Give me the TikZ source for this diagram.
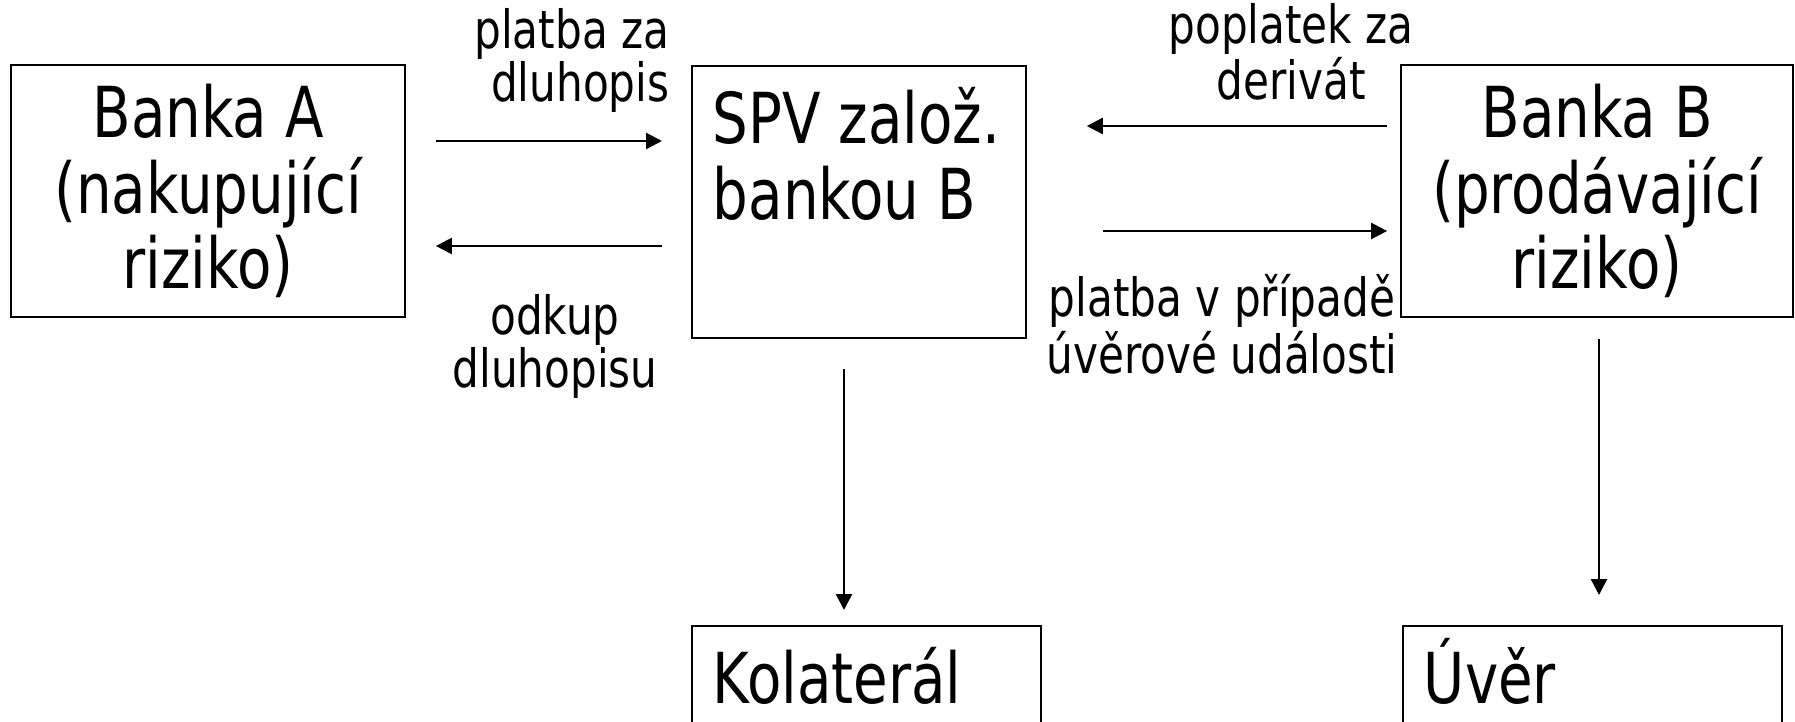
\documentclass[tikz,border=0pt]{standalone}
\usepackage{fontspec}
\setmainfont[FakeStretch=0.8]{DejaVu Sans}
\usetikzlibrary{arrows.meta}

\newcommand{\boxtext}{\fontsize{20}{21.6}\selectfont}
\newcommand{\lbltext}{\fontsize{15}{14.8}\selectfont}
% box with text in the upper left corner
\newcommand{\topleft}[3]{\parbox[c][#2][t]{#1}{\leftskip=0.21cm\rule{0pt}{0.78cm}#3}}

\tikzset{
  block/.style={draw, line width=0.5pt, inner sep=0pt, align=center, font=\boxtext},
  cell/.style={draw, line width=0.5pt, inner sep=0pt, anchor=north west, font=\boxtext},
  lbl/.style={font=\lbltext, inner sep=0pt},
  flow/.style={-{Triangle[length=0.16cm,width=0.16cm]}, line width=0.7pt}
}

\begin{document}
\begin{tikzpicture}
	\useasboundingbox (0,0) rectangle (17.95,7.21);
	\clip (0,0) rectangle (17.95,7.21);
	\node[block, minimum width=3.94cm, minimum height=2.52cm] (bankA) at (2.08,5.30) {Banka A\\(nakupující\\riziko)};
	\node[cell] (spv) at (6.91,6.56) {\topleft{3.34cm}{2.72cm}{SPV založ.\\bankou B}};
	\node[block, minimum width=3.92cm, minimum height=2.52cm] (bankB) at (15.97,5.30) {Banka B\\(prodávající\\riziko)};
	\node[cell] (collat) at (6.91,0.96) {\topleft{3.49cm}{1.75cm}{Kolaterál}};
	\node[cell] (loan) at (14.02,0.96) {\topleft{3.79cm}{1.75cm}{Úvěr}};

	\draw[flow, shorten <=0.30cm, shorten >=0.29cm] (bankA.east |- 0,5.80) -- (spv.west |- 0,5.80);
	\draw[flow, shorten <=0.29cm, shorten >=0.30cm] (spv.west |- 0,4.75) -- (bankA.east |- 0,4.75);
	\draw[flow, shorten <=0.13cm, shorten >=0.60cm] (bankB.west |- 0,5.95) -- (spv.east |- 0,5.95);
	\draw[flow, shorten <=0.76cm, shorten >=0.13cm] (spv.east |- 0,4.90) -- (bankB.west |- 0,4.90);
	\draw[flow, shorten <=0.30cm, shorten >=0.15cm] (spv.south -| 8.44,0) -- (collat.north -| 8.44,0);
	\draw[flow, shorten <=0.21cm, shorten >=0.30cm] (bankB.south -| 15.99,0) -- (loan.north -| 15.99,0);

	\node[lbl, align=right, anchor=base east] (payBond) at (6.70,6.20) {platba za\\dluhopis};
	\node[lbl, align=center, anchor=base] (buyBack) at (5.55,3.34) {odkup\\dluhopisu};
	\node[lbl, align=center, anchor=base] (fee) at (12.91,6.21) {poplatek za\\derivát};
	\node[lbl, align=center, anchor=base] (payEvent) at (12.22,3.48) {platba v případě\\úvěrové události};
\end{tikzpicture}
\end{document}
